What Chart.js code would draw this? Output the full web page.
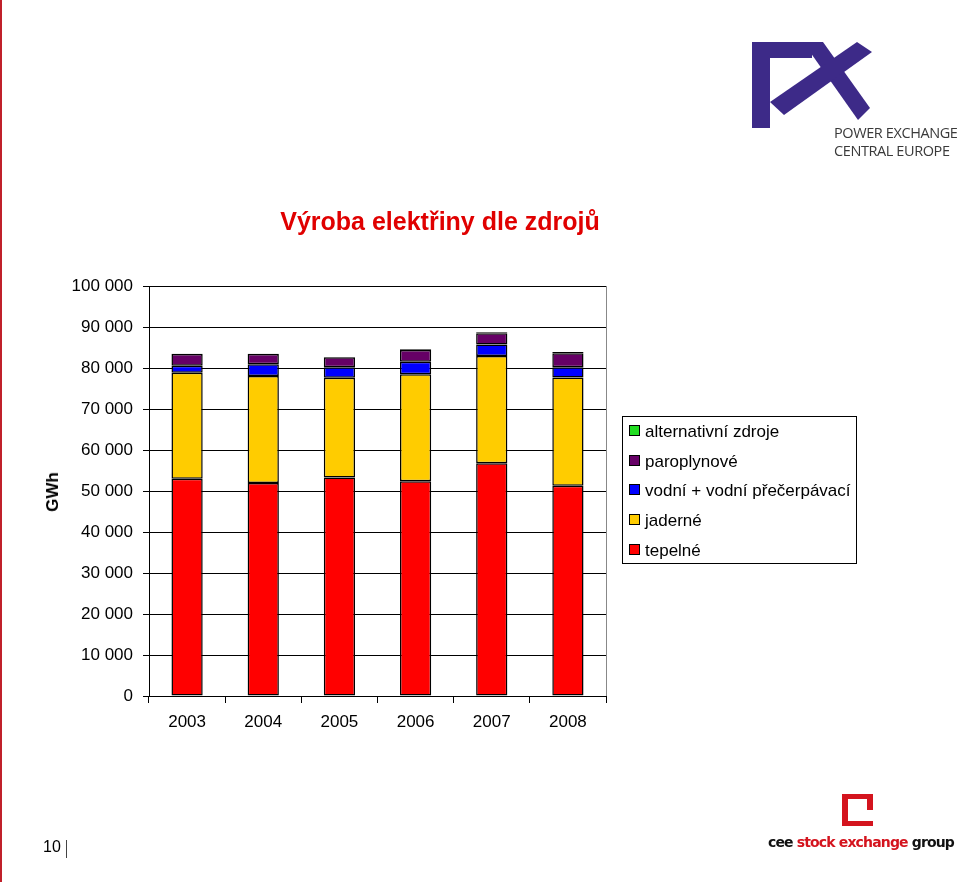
<!DOCTYPE html>
<html>
<head>
<meta charset="utf-8">
<script src="https://cdn.jsdelivr.net/npm/chart.js@4/dist/chart.umd.min.js"></script>
<style>
  html, body { margin:0; padding:0; background:#fff; }
  body { width:960px; height:882px; position:relative; overflow:hidden; font-family:"Liberation Sans", Arial, sans-serif; }
  #wrap { position:absolute; left:0; top:0; width:960px; height:882px; }
  #redline { position:absolute; left:0; top:0; width:2px; height:882px; background:#c0202a; }
  #title { position:absolute; left:190px; width:500px; top:206px; text-align:center; color:#e00000; font-weight:bold; font-size:25px; line-height:30px; }
  #ylab { position:absolute; left:53px; top:492px; transform:translate(-50%,-50%) rotate(-90deg); font-weight:bold; font-size:17px; color:#000; white-space:nowrap; }
  #legend { position:absolute; left:622px; top:416px; width:235px; height:148px; border:1px solid #000; box-sizing:border-box; }
  .li { position:absolute; left:6px; height:20px; font-size:17px; line-height:20px; white-space:nowrap; color:#000; }
  .sw { display:inline-block; width:9px; height:9px; border:1px solid #000; margin-right:5px; vertical-align:1px; }
  #px { position:absolute; left:0; top:0; }
  #pxtext { position:absolute; left:834px; top:124px; font-family:"Open Sans", sans-serif; font-size:14.5px; line-height:18px; color:#3a3a3a; letter-spacing:-0.4px; }
  #page { position:absolute; left:43px; top:838px; font-size:16px; color:#000; }
  #pagebar { position:absolute; left:66px; top:840px; width:1px; height:18px; background:#444; }
  #cee { position:absolute; left:768px; top:834px; font-family:"DejaVu Sans", sans-serif; font-weight:bold; font-size:14px; letter-spacing:-0.85px; color:#111; white-space:nowrap; }
  #cee span { color:#d4141e; }
</style>
</head>
<body>
<div id="redline"></div>
<div id="wrap"><canvas id="c" width="960" height="882"></canvas></div>
<div id="title">Výroba elektřiny dle zdrojů</div>
<div id="ylab">GWh</div>
<div id="legend"></div>
<svg id="px" width="960" height="882">
  <g fill="#3d2a88">
    <rect x="752" y="42" width="18" height="86"/>
    <rect x="752" y="42" width="60" height="16"/>
    <polygon points="803,42 823,42 870,108 858,120"/>
    <polygon points="857,42 872,52 784,115 770,102"/>
  </g>
  <g fill="#d4141e">
    <rect x="842" y="794" width="31" height="5"/>
    <rect x="842" y="794" width="6" height="32"/>
    <rect x="842" y="821" width="31" height="5"/>
    <rect x="867" y="794" width="6" height="16"/>
  </g>
</svg>
<div id="pxtext">POWER EXCHANGE<br>CENTRAL EUROPE</div>
<div id="page">10</div>
<div id="pagebar"></div>
<div id="cee">cee <span>stock exchange</span> group</div>
<script>
// ---- data (GWh) ----
const years = ["2003", "2004", "2005", "2006", "2007", "2008"];
const tepelne      = [53000, 51950, 53300, 52350, 56750, 51300];
const jaderne      = [25850, 26100, 24350, 26100, 26150, 26400];
const vodni        = [1700, 2850, 2550, 3050, 2850, 2500];
const paroplynove  = [2850, 2500, 2400, 2900, 2700, 3400];
const alternativni = [100, 100, 100, 150, 250, 300];
const yTicks = [0, 10000, 20000, 30000, 40000, 50000, 60000, 70000, 80000, 90000, 100000];

const names = {
  tepelne: "tepelné",
  jaderne: "jaderné",
  vodni: "vodní + vodní přečerpávací",
  paroplynove: "paroplynové",
  alternativni: "alternativní zdroje"
};
const colors = {
  tepelne: "#ff0000",
  jaderne: "#ffcc00",
  vodni: "#0000ff",
  paroplynove: "#660066",
  alternativni: "#22dd22"
};

const series = [
  ["tepelne", tepelne],
  ["jaderne", jaderne],
  ["vodni", vodni],
  ["paroplynove", paroplynove],
  ["alternativni", alternativni]
];

const datasets = series.map(([k, arr]) => ({
  label: names[k],
  data: arr,
  backgroundColor: colors[k],
  borderColor: "#000",
  borderWidth: 1.5,
  borderSkipped: false,
  barPercentage: 0.41,
  categoryPercentage: 1.0
}));

// HTML legend (reverse order like reference)
const leg = document.getElementById("legend");
series.slice().reverse().forEach(([k], i) => {
  const d = document.createElement("div");
  d.className = "li";
  d.style.top = (5 + i * 29.7) + "px";
  d.innerHTML = '<span class="sw" style="background:' + colors[k] + '"></span>' + names[k];
  leg.appendChild(d);
});

const fmt = v => String(v).replace(/\B(?=(\d{3})+(?!\d))/g, " ");

const rightBorder = {
  id: "rightBorder",
  afterDraw(chart) {
    const a = chart.chartArea, ctx = chart.ctx;
    ctx.save();
    ctx.strokeStyle = "#888";
    ctx.lineWidth = 1;
    ctx.beginPath();
    ctx.moveTo(Math.round(a.right) + 0.5, a.top);
    ctx.lineTo(Math.round(a.right) + 0.5, a.bottom);
    ctx.stroke();
    ctx.restore();
  }
};

new Chart(document.getElementById("c"), {
  type: "bar",
  data: { labels: years, datasets },
  options: {
    responsive: false,
    animation: false,
    layout: { padding: { left: 0, top: 286, right: 354, bottom: 0 } },
    plugins: { legend: { display: false }, title: { display: false }, tooltip: { enabled: false } },
    scales: {
      x: {
        stacked: true,
        offset: true,
        grid: { display: true, drawOnChartArea: false, color: "#000", tickLength: 7, offset: true },
        border: { display: true, color: "#000", width: 1 },
        ticks: { color: "#000", font: { family: "'Liberation Sans', Arial, sans-serif", size: 17 }, padding: 9, maxRotation: 0 },
        afterFit: s => { s.height = 882 - 696; }
      },
      y: {
        stacked: true,
        min: 0,
        max: 100000,
        afterBuildTicks: s => { s.ticks = yTicks.map(v => ({ value: v })); },
        grid: { color: "#000", lineWidth: 1, tickLength: 6 },
        border: { display: true, color: "#000", width: 1 },
        ticks: { color: "#000", font: { family: "'Liberation Sans', Arial, sans-serif", size: 17 }, padding: 10, callback: v => fmt(v) },
        afterFit: s => { s.width = 149; }
      }
    }
  },
  plugins: [rightBorder]
});
</script>
</body>
</html>
